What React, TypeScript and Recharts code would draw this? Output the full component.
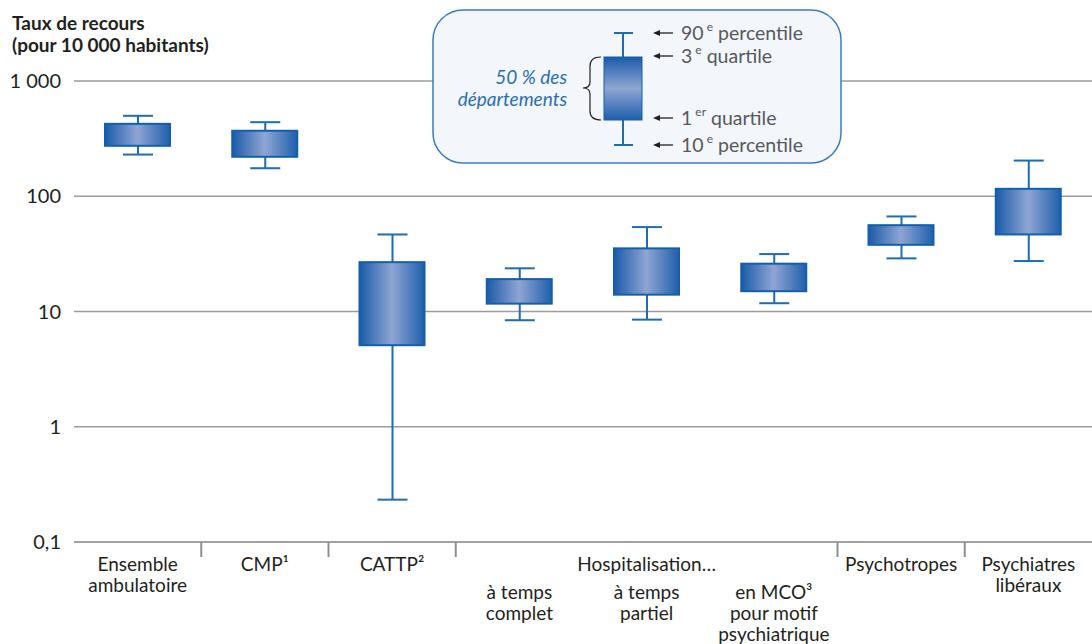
import { Bar, CartesianGrid, ComposedChart, XAxis, YAxis } from 'recharts';

// Taux de recours (pour 10 000 habitants), distribution par département
const categories = [
  'Ensemble ambulatoire',
  'CMP¹',
  'CATTP²',
  'à temps complet',
  'à temps partiel',
  'en MCO³ pour motif psychiatrique',
  'Psychotropes',
  'Psychiatres libéraux',
];
const groups = ['Ensemble', 'CMP', 'CATTP', 'Hospitalisation…', 'Hospitalisation…', 'Hospitalisation…', 'Psychotropes', 'Psychiatres'];
const labelLines = [
  ['Ensemble', 'ambulatoire'],
  ['CMP¹'],
  ['CATTP²'],
  ['à temps', 'complet'],
  ['à temps', 'partiel'],
  ['en MCO³', 'pour motif', 'psychiatrique'],
  ['Psychotropes'],
  ['Psychiatres', 'libéraux'],
];
const p10Values = [230, 175, 0.233, 8.4, 8.5, 11.8, 28.9, 27.4];
const q1Values = [274, 220, 5.1, 11.7, 14.0, 15.0, 37.9, 46.6];
const q3Values = [425, 370, 26.8, 19.1, 35.3, 26.0, 56.1, 116];
const p90Values = [499, 439, 46.6, 23.7, 54, 31.5, 66.8, 204];
const yTicks = [0.1, 1, 10, 100, 1000];

const data = categories.map((name, i) => ({
  name,
  whisker: [p10Values[i], p90Values[i]],
  box: [q1Values[i], q3Values[i]],
}));

const FONT = 'Lato, "Noto Sans", sans-serif';
const TEXT = '#231f20';
const BLUE_LINE = '#1d6cb6';

const formatTick = (v: number) =>
  String(v).replace(/\B(?=(\d{3})+(?!\d))/g, ' ').replace('.', ',');

const WhiskerShape = (props: any) => {
  const { x, y, width, height } = props;
  const cx = x + width / 2;
  return (
    <g stroke={BLUE_LINE} strokeWidth={2}>
      <line x1={cx} x2={cx} y1={y} y2={y + height} />
      <line x1={x} x2={x + width} y1={y} y2={y} />
      <line x1={x} x2={x + width} y1={y + height} y2={y + height} />
    </g>
  );
};

const BoxShape = (props: any) => {
  const { x, y, width, height, index } = props;
  const id = `boxGrad${index}`;
  return (
    <g>
      <defs>
        <linearGradient id={id} x1="0" y1="0" x2="1" y2="0">
          <stop offset="0%" stopColor="#1b5ba9" />
          <stop offset="50%" stopColor="#8fa5d3" />
          <stop offset="100%" stopColor="#1f5fad" />
        </linearGradient>
      </defs>
      <rect x={x} y={y} width={width} height={height} fill={`url(#${id})`} stroke="#1260ad" strokeWidth={2} />
    </g>
  );
};

const CategoryTick = (props: any) => {
  const { x, y, payload } = props;
  const i = categories.indexOf(payload.value);
  const half = payload.offset || 1018 / categories.length / 2;
  const inHosp = groups[i] === 'Hospitalisation…';
  const isMiddleHosp = inHosp && groups[i - 1] === groups[i] && groups[i + 1] === groups[i];
  const firstBaseline = inHosp ? 57 : 29;
  const showSep = i < categories.length - 1 && groups[i + 1] !== groups[i];
  return (
    <g>
      {showSep && <line x1={x + half} x2={x + half} y1={y} y2={y + 15} stroke="#8f8f8f" strokeWidth={2} />}
      {isMiddleHosp && (
        <text x={x} y={y + 29} textAnchor="middle" fontFamily={FONT} fontSize={19} fill={TEXT}>
          {groups[i]}
        </text>
      )}
      {labelLines[i].map((line, k) => (
        <text key={k} x={x} y={y + firstBaseline + k * 21} textAnchor="middle" fontFamily={FONT} fontSize={19} fill={TEXT}>
          {line}
        </text>
      ))}
    </g>
  );
};

const LegendOverlay = () => {
  const labelX = 681;
  const rows = [
    { y: 33, main: '90', sup: 'e', rest: ' percentile' },
    { y: 56, main: '3', sup: 'e', rest: ' quartile' },
    { y: 118, main: '1', sup: 'er', rest: ' quartile' },
    { y: 145, main: '10', sup: 'e', rest: ' percentile' },
  ];
  return (
    <svg width={1092} height={644} style={{ position: 'absolute', left: 0, top: 0, pointerEvents: 'none' }}>
      <defs>
        <linearGradient id="legendGrad" x1="0" y1="0" x2="0" y2="1">
          <stop offset="0%" stopColor="#1b5ba9" />
          <stop offset="50%" stopColor="#8fa5d3" />
          <stop offset="100%" stopColor="#1f5fad" />
        </linearGradient>
      </defs>
      <text fontFamily={FONT} fontWeight={700} fontSize={19} fill={TEXT}>
        <tspan x={12} y={30}>Taux de recours</tspan>
        <tspan x={12} y={52}>(pour 10 000 habitants)</tspan>
      </text>
      <rect x={433} y={10} width={408} height={153} rx={30} ry={30} fill="#f3f6fb" stroke="#3a7dc0" strokeWidth={1.5} />
      <g stroke={BLUE_LINE} strokeWidth={2}>
        <line x1={623} x2={623} y1={33} y2={145} />
        <line x1={614} x2={633} y1={33} y2={33} />
        <line x1={614} x2={633} y1={145} y2={145} />
      </g>
      <rect x={604} y={57} width={38} height={63} fill="url(#legendGrad)" stroke="#1260ad" strokeWidth={1} />
      <path d="M 601 57 Q 590 57 590 66 L 590 82 Q 590 88 583 88 Q 590 88 590 94 L 590 111 Q 590 120 601 120" fill="none" stroke={TEXT} strokeWidth={1.2} />
      <text fontFamily={FONT} fontStyle="italic" fontSize={19} fill="#2a6fb5" textAnchor="end">
        <tspan x={567} y={84}>50 % des</tspan>
        <tspan x={567} y={106}>départements</tspan>
      </text>
      {rows.map((r) => (
        <g key={r.y}>
          <line x1={673} x2={657} y1={r.y} y2={r.y} stroke={TEXT} strokeWidth={1.3} />
          <polygon points={`653,${r.y} 660,${r.y - 3} 660,${r.y + 3}`} fill={TEXT} />
          <text x={labelX} y={r.y + 7} fontFamily={FONT} fontSize={19.5} fill="#58595b">
            <tspan>{r.main}</tspan>
            <tspan dx={3} dy={-9} fontSize={12}>{r.sup}</tspan>
            <tspan dy={9}>{r.rest}</tspan>
          </text>
        </g>
      ))}
    </svg>
  );
};

const App = (): React.ReactElement => {
  return (
    <div style={{ position: 'absolute', left: 0, top: 0, width: 1092, height: 644, background: '#fff' }}>
      <ComposedChart width={1092} height={644} data={data} margin={{ top: 81, right: 0, bottom: 2, left: 0 }}>
        <CartesianGrid vertical={false} stroke="#9c9c9c" strokeWidth={1.3} />
        <XAxis
          xAxisId="main"
          dataKey="name"
          height={100}
          interval={0}
          tickLine={false}
          tickSize={0}
          tickMargin={0}
          axisLine={{ stroke: '#9c9c9c', strokeWidth: 1.3 }}
          tick={<CategoryTick />}
        />
        <XAxis xAxisId="w" dataKey="name" hide />
        <YAxis
          scale="log"
          domain={[0.1, 1000]}
          ticks={yTicks}
          allowDataOverflow
          width={74}
          axisLine={false}
          tickLine={false}
          tickSize={0}
          tickMargin={13}
          tickFormatter={formatTick}
          tick={{ fill: TEXT, fontSize: 20, fontFamily: FONT }}
        />
        <Bar xAxisId="w" dataKey="whisker" barSize={30} shape={<WhiskerShape />} isAnimationActive={false} />
        <Bar xAxisId="main" dataKey="box" barSize={65} shape={<BoxShape />} isAnimationActive={false} />
      </ComposedChart>
      <LegendOverlay />
    </div>
  );
};

export default App;
